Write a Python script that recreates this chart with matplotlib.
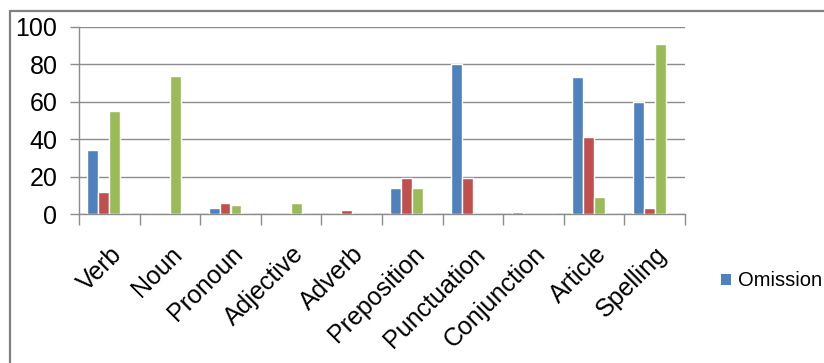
import numpy as np
import matplotlib
matplotlib.use("Agg")
import matplotlib.pyplot as plt
from matplotlib.patches import Rectangle, Patch

plt.rcParams['font.family'] = ['Liberation Sans', 'DejaVu Sans']

categories = ["Verb", "Noun", "Pronoun", "Adjective", "Adverb",
              "Preposition", "Punctuation", "Conjunction", "Article", "Spelling"]
omission = [34, 0, 3, 0, 0, 14, 80, 1, 73, 60]
addition = [12, 0, 6, 0, 2, 19, 19, 0, 41, 3]
misformation = [55, 74, 5, 6, 0, 14, 0, 0, 9, 91]
misordering = [0, 0, 0, 0, 0, 0, 0, 0, 0, 0]

series = [("Omission", omission, "#4F81BD"),
          ("Addition", addition, "#C0504D"),
          ("Misformation", misformation, "#9BBB59"),
          ("Misordering", misordering, "#8064A2")]

W, H = 824, 363
fig = plt.figure(figsize=(W / 100, H / 100), dpi=100)
ax = fig.add_axes([79 / W, 1 - 214 / H, (685 - 79) / W, (214 - 27) / H])

x = np.arange(len(categories))
bw = 0.18
for i, (name, vals, col) in enumerate(series):
    ax.bar(x + (i - 1.5) * bw, vals, width=bw, color=col,
           edgecolor="white", linewidth=1.0, label=name, zorder=3)

grid_col = "#8c8c8c"
ax.set_xlim(-0.5, len(categories) - 0.5)
ax.set_ylim(0, 100)
ax.set_yticks([0, 20, 40, 60, 80, 100])
ax.yaxis.grid(True, color=grid_col, linewidth=1.0, zorder=0)
ax.set_axisbelow(True)

for s in ["top", "right"]:
    ax.spines[s].set_visible(False)
ax.spines["left"].set_color(grid_col)
ax.spines["bottom"].set_color(grid_col)
ax.spines["left"].set_linewidth(1.0)
ax.spines["bottom"].set_linewidth(1.0)

# category tick marks sit on the group boundaries
ax.set_xticks(np.arange(len(categories) + 1) - 0.5)
ax.set_xticklabels([])
ax.tick_params(axis="x", which="major", length=8, width=1.0, color=grid_col)
ax.set_xticks(x, minor=True)
ax.set_xticklabels(categories, minor=True, rotation=45, ha="right", va="top",
                   rotation_mode="anchor", fontsize=18)
ax.tick_params(axis="x", which="minor", length=0, pad=20)

ax.tick_params(axis="y", length=6.5, width=1.0, color=grid_col, labelsize=18, pad=9)

# outer chart frame
fig.patches.append(Rectangle((9.5 / W, -0.1), 1.2, 1 - 11 / H + 0.1,
                             transform=fig.transFigure, fill=False,
                             edgecolor="#808080", linewidth=1.6))

fig.legend(handles=[Patch(facecolor="#4F81BD", edgecolor="none", label="Omission")],
           loc="center left", bbox_to_anchor=(713 / W, 1 - 281 / H),
           frameon=False, fontsize=14.5, handlelength=0.5, handleheight=0.5,
           handletextpad=0.35, borderaxespad=0)

fig.savefig("out.png", dpi=100)
